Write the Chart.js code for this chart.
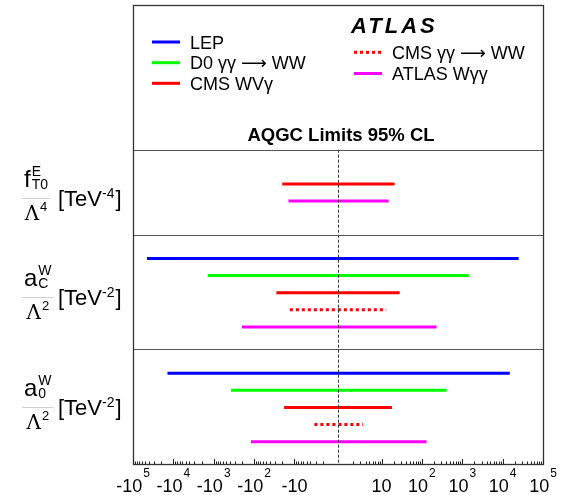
<!DOCTYPE html>
<html>
<head>
<meta charset="utf-8">
<script src="https://cdn.jsdelivr.net/npm/chart.js@4.4.1/dist/chart.umd.min.js"></script>
<style>
  html, body { margin: 0; padding: 0; background: #fff; }
  #wrap { width: 565px; height: 495px; }
</style>
</head>
<body>
<div id="wrap"><canvas id="limitChart" width="565" height="495"></canvas></div>
<script>
// Couplings, one panel each (top to bottom)
const couplings = ['fT0', 'aC', 'a0'];

// 95% CL limits per experiment, order [fT0, aC, a0]; null = no limit
const lepLow = [null, -45000, -14000];
const lepHigh = [null, 25000, 15000];
const d0Low = [null, -1400, -370];
const d0High = [null, 1450, 410];
const cmsWVLow = [-20, -28, -18];
const cmsWVHigh = [21, 28, 18];
const cmsGGLow = [null, -13, -3.2];
const cmsGGHigh = [null, 13, 3.5];
const atlasLow = [-14, -200, -120];
const atlasHigh = [15, 230, 130];

// x axis ticks
const tickValues = [-1e5, -1e4, -1e3, -1e2, -10, 10, 1e2, 1e3, 1e4, 1e5];
const tickBase = ['-10', '-10', '-10', '-10', '-10', '10', '10', '10', '10', '10'];
const tickExp = ['5', '4', '3', '2', '', '', '2', '3', '4', '5'];

// symmetric log mapping used for the x axis
const OFF = 0.08;
function u(v) {
    return Math.sign(v) * (Math.log10(Math.abs(v)) + OFF);
}

const series = [
    { label: ['LEP'], color: '#0000ff', dash: [], low: lepLow, high: lepHigh },
    { label: ['D0 γγ ', '⟶', ' WW'], color: '#00ff00', dash: [], low: d0Low, high: d0High },
    { label: ['CMS WVγ'], color: '#ff0000', dash: [], low: cmsWVLow, high: cmsWVHigh },
    { label: ['CMS γγ ', '⟶', ' WW'], color: '#ff0000', dash: [3, 3], low: cmsGGLow, high: cmsGGHigh },
    { label: ['ATLAS Wγγ'], color: '#ff00ff', dash: [], low: atlasLow, high: atlasHigh }
];

// vertical layout in row units (y axis reversed)
const panelFirstRow = [10.45, 14.8, 21.5];
const panelTops = [8.45, 13.4, 20.1];
const Y_MAX = 26.8;

const datasets = series.map((s, si) => {
    const pts = [];
    couplings.forEach((c, p) => {
        if (s.low[p] === null) return;
        let idx = 0;
        for (let k = 0; k < si; k++) if (series[k].low[p] !== null) idx++;
        const row = panelFirstRow[p] + idx;
        pts.push({ x: u(s.low[p]), y: row }, { x: u(s.high[p]), y: row }, { x: null, y: null });
    });
    return {
        label: s.label.join(''),
        data: pts,
        showLine: true,
        borderColor: s.color,
        borderWidth: 3,
        borderDash: s.dash,
        borderCapStyle: 'butt',
        pointRadius: 0,
        spanGaps: false
    };
});

function txt(ctx, str, x, y, font, align) {
    ctx.font = font;
    ctx.textAlign = align || 'left';
    ctx.fillText(str, x, y);
    return ctx.measureText(str).width;
}

// frame, panel dividers, ticks, zero line
const framePlugin = {
    id: 'frame',
    afterDatasetsDraw(chart) {
        const { ctx, chartArea: a, scales } = chart;
        const xs = scales.x, ys = scales.y;
        ctx.save();
        // zero line
        ctx.strokeStyle = '#333';
        ctx.lineWidth = 1;
        ctx.setLineDash([3, 2]);
        const x0 = Math.round(xs.getPixelForValue(0)) + 0.5;
        ctx.beginPath();
        ctx.moveTo(x0, ys.getPixelForValue(panelTops[0]));
        ctx.lineTo(x0, a.bottom);
        ctx.stroke();
        ctx.setLineDash([]);
        // dividers
        ctx.strokeStyle = '#555';
        panelTops.forEach(t => {
            const y = Math.round(ys.getPixelForValue(t)) + 0.5;
            ctx.beginPath();
            ctx.moveTo(a.left, y);
            ctx.lineTo(a.right, y);
            ctx.stroke();
        });
        // frame
        ctx.strokeStyle = '#333';
        ctx.lineWidth = 1.3;
        ctx.strokeRect(a.left + 0.5, a.top + 0.5, a.right - a.left, a.bottom - a.top);
        // ticks
        ctx.lineWidth = 1;
        ctx.strokeStyle = '#222';
        ctx.beginPath();
        tickValues.forEach(v => {
            const x = Math.round(xs.getPixelForValue(u(v))) + 0.5;
            ctx.moveTo(x, a.bottom);
            ctx.lineTo(x, a.bottom - 5);
        });
        for (let e = 0; e < 5; e++) {
            for (let m = 2; m <= 9; m++) {
                [1, -1].forEach(sg => {
                    const x = Math.round(xs.getPixelForValue(u(sg * m * Math.pow(10, e)))) + 0.5;
                    ctx.moveTo(x, a.bottom);
                    ctx.lineTo(x, a.bottom - 2.5);
                });
            }
        }
        ctx.stroke();
        ctx.restore();
    },
    afterDraw(chart) {
        const { ctx, chartArea: a, scales } = chart;
        const xs = scales.x;
        ctx.save();
        ctx.fillStyle = '#000';
        ctx.textBaseline = 'alphabetic';
        const F = '"Liberation Sans", Arial, sans-serif';

        // tick labels
        tickValues.forEach((v, i) => {
            const x = xs.getPixelForValue(u(v));
            ctx.font = '18px ' + F;
            const wb = ctx.measureText(tickBase[i]).width;
            ctx.font = '12px ' + F;
            const we = tickExp[i] ? ctx.measureText(tickExp[i]).width + 1 : 0;
            const x1 = x - (wb + we) / 2;
            txt(ctx, tickBase[i], x1, 491.5, '18px ' + F);
            if (tickExp[i]) txt(ctx, tickExp[i], x1 + wb + 1, 477, '12px ' + F);
        });

        // y labels (fractions)
        const fracLine = [197.7, 296.7, 406.7];
        const num = [['f', 'E', 'T0'], ['a', 'W', 'C'], ['a', 'W', '0']];
        const unitExp = ['-4', '-2', '-2'];
        const lamExp = ['4', '2', '2'];
        const MF = '24px ' + F;
        const LF = '20px "DejaVu Serif", serif';
        fracLine.forEach((L, p) => {
            ctx.font = MF;
            const wm = ctx.measureText(num[p][0]).width;
            ctx.font = '14px ' + F;
            const ws = Math.max(ctx.measureText(num[p][1]).width, ctx.measureText(num[p][2]).width);
            ctx.font = LF;
            const wl = ctx.measureText('Λ').width;
            ctx.font = '13px ' + F;
            const wl2 = ctx.measureText(lamExp[p]).width;
            const wn = wm + ws + 1;
            const wd = wl + wl2 + 1;
            const fw = Math.max(wn, wd) + 4;
            const fx = 22;
            const cx = fx + fw / 2;
            const nx = cx - wn / 2;
            txt(ctx, num[p][0], nx, L - 10.5, MF);
            txt(ctx, num[p][1], nx + wm + 1, L - 21.5, '14px ' + F);
            txt(ctx, num[p][2], nx + wm + 1, L - 8.5, '14px ' + F);
            ctx.strokeStyle = '#d0d0d0';
            ctx.lineWidth = 1;
            ctx.beginPath();
            ctx.moveTo(fx, Math.round(L) + 0.5);
            ctx.lineTo(fx + fw, Math.round(L) + 0.5);
            ctx.stroke();
            const dx = cx - wd / 2;
            txt(ctx, 'Λ', dx, L + 22, LF);
            txt(ctx, lamExp[p], dx + wl + 1, L + 13.5, '13px ' + F);
            let x = 58;
            x += txt(ctx, '[TeV', x, L + 8.5, '22px ' + F);
            x += txt(ctx, unitExp[p], x, L + 0.5, '14px ' + F);
            txt(ctx, ']', x + 1, L + 8.5, '22px ' + F);
        });

        // legend
        const leg = [
            { s: 0, x: 152, y: 42 }, { s: 1, x: 152, y: 62.7 }, { s: 2, x: 152, y: 83.3 },
            { s: 3, x: 354, y: 52.3 }, { s: 4, x: 354, y: 73.5 }
        ];
        leg.forEach(l => {
            const s = series[l.s];
            ctx.strokeStyle = s.color;
            ctx.lineWidth = 3;
            ctx.setLineDash(s.dash);
            ctx.beginPath();
            ctx.moveTo(l.x, l.y);
            ctx.lineTo(l.x + 28, l.y);
            ctx.stroke();
            ctx.setLineDash([]);
            let x = l.x + 38;
            s.label.forEach(part => {
                const f = part === '⟶' ? '18px "DejaVu Sans", sans-serif' : '18px ' + F;
                x += txt(ctx, part, x, l.y + 6.5, f);
            });
        });

        // ATLAS label
        ctx.letterSpacing = '3px';
        txt(ctx, 'ATLAS', 351, 32.5, 'italic bold 22px ' + F);
        ctx.letterSpacing = '0px';

        // title
        txt(ctx, 'AQGC Limits 95% CL', (a.left + a.right) / 2 + 3, 140.5, 'bold 18.5px ' + F, 'center');
        ctx.restore();
    }
};

new Chart(document.getElementById('limitChart'), {
    type: 'scatter',
    data: { datasets: datasets },
    options: {
        responsive: false,
        animation: false,
        devicePixelRatio: 1,
        layout: { padding: { left: 133, right: 22, top: 5, bottom: 31 } },
        plugins: { legend: { display: false }, tooltip: { enabled: false } },
        scales: {
            x: { type: 'linear', min: -(5 + OFF), max: 5 + OFF, display: false },
            y: { type: 'linear', min: 0, max: Y_MAX, reverse: true, display: false }
        }
    },
    plugins: [framePlugin]
});
</script>
</body>
</html>
